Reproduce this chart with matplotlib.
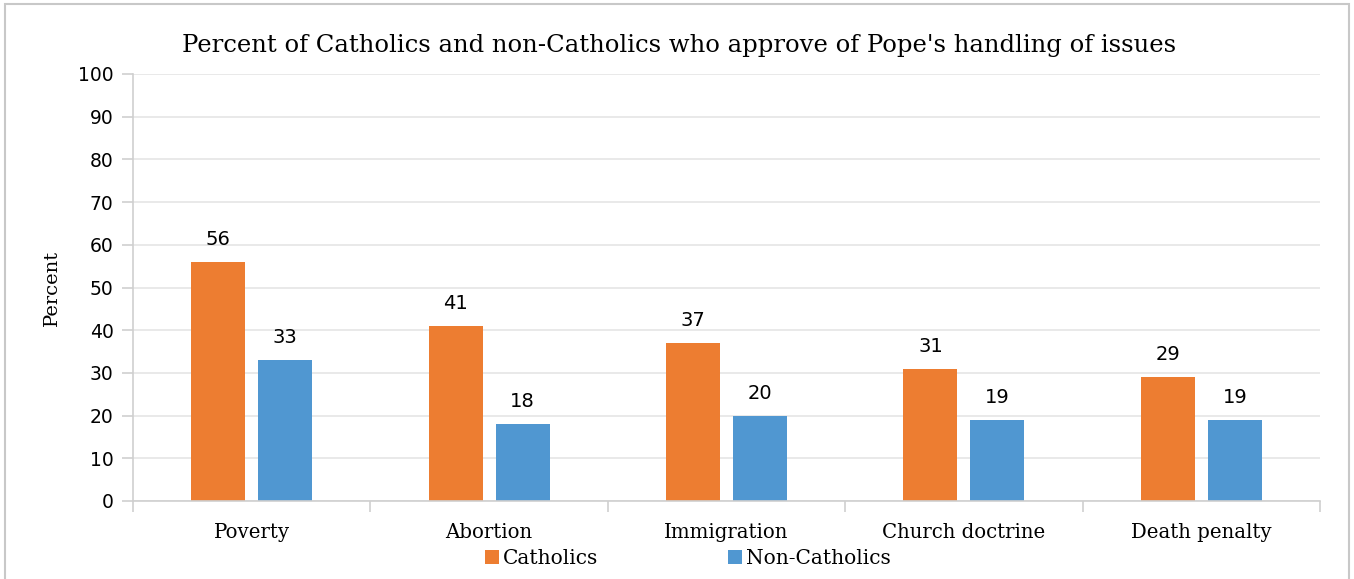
import matplotlib
matplotlib.use("Agg")
import matplotlib.pyplot as plt
import numpy as np

categories = ["Poverty", "Abortion", "Immigration", "Church doctrine", "Death penalty"]
catholics = [56, 41, 37, 31, 29]
non_catholics = [33, 18, 20, 19, 19]

ORANGE = "#ed7d31"
BLUE = "#5097d1"
GRID = "#e3e3e3"

plt.rcParams["font.family"] = ["DejaVu Serif"]

fig = plt.figure(figsize=(13.54, 5.79), dpi=100)
ax = fig.add_axes([133 / 1354, 1 - 501 / 579, (1320 - 133) / 1354, (501 - 74) / 579])

x = np.arange(len(categories))
w = 0.227
off = 0.141
b1 = ax.bar(x - off, catholics, w, color=ORANGE, label="Catholics", zorder=2)
b2 = ax.bar(x + off, non_catholics, w, color=BLUE, label="Non-Catholics", zorder=2)
for bars in (b1, b2):
    for r in bars:
        ax.text(r.get_x() + r.get_width() / 2, r.get_height() + 3, f"{int(r.get_height())}",
                ha="center", va="bottom", fontsize=14, family="DejaVu Sans")

ax.set_xlim(-0.5, len(categories) - 0.5)
ax.set_ylim(0, 100)
ax.set_yticks(range(0, 101, 10))
ax.set_yticklabels([str(v) for v in range(0, 101, 10)], family="DejaVu Sans", fontsize=13.5)
ax.set_xticks(x)
ax.set_xticklabels(categories, fontsize=14.2)
ax.set_xticks(np.arange(-0.5, len(categories)), minor=True)
ax.tick_params(axis="x", which="major", length=0, pad=16)
ax.tick_params(axis="x", which="minor", length=8, color="#cfcfcf", width=1.2)
ax.tick_params(axis="y", length=8, color="#cfcfcf", width=1.2, pad=6)
ax.grid(axis="y", color=GRID, lw=1.1, zorder=0)
for s in ("top", "right"):
    ax.spines[s].set_visible(False)
for s in ("left", "bottom"):
    ax.spines[s].set_color("#cfcfcf")
    ax.spines[s].set_linewidth(1.2)
ax.set_ylabel("Percent", fontsize=14, labelpad=12)

ax.set_title("Percent of Catholics and non-Catholics who approve of Pope's handling of issues",
             fontsize=17.5, pad=16, x=0.46)

fig.legend(handles=[b1, b2], loc="center", bbox_to_anchor=(0.508, 0.035), ncol=2,
           frameon=False, fontsize=14.5, handlelength=0.7, handleheight=0.7,
           handletextpad=0.2, columnspacing=6.45)

border = plt.Rectangle((5 / 1354, -0.01), 1344 / 1354, 1 - 4 / 579 + 0.01, transform=fig.transFigure,
                       fill=False, ec="#c8c8c8", lw=1.5)
fig.patches.append(border)

fig.savefig("out.png", dpi=100)
